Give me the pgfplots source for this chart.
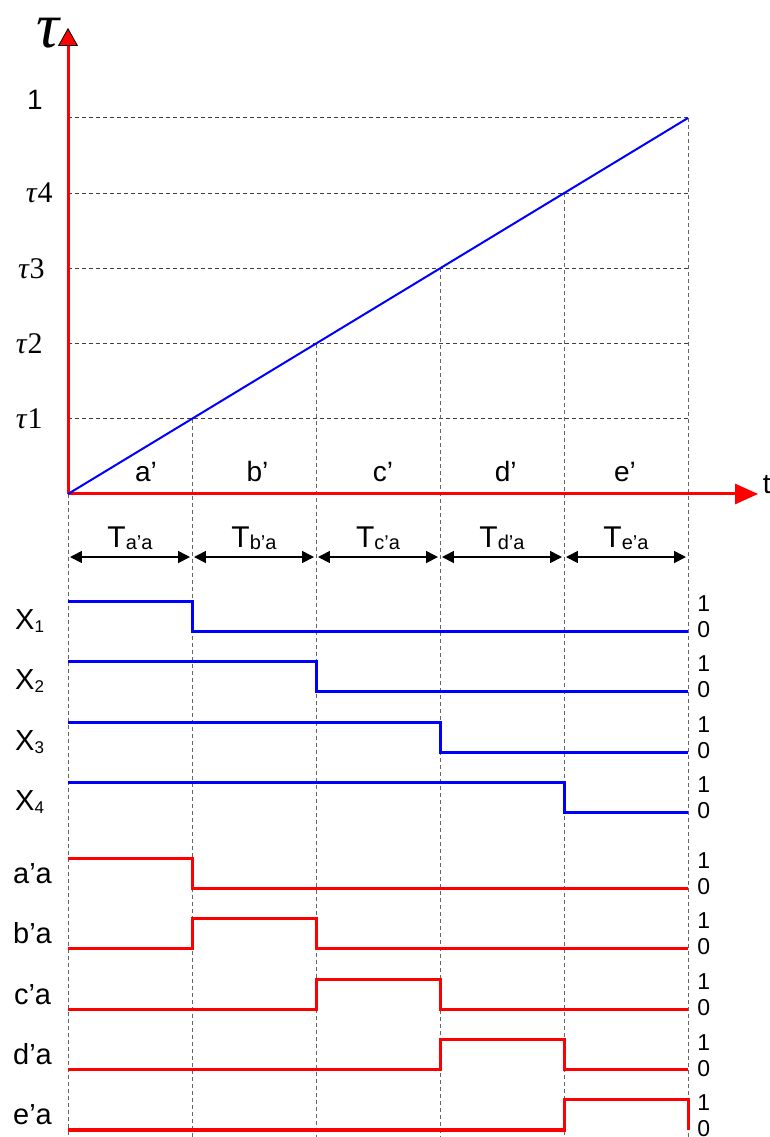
\documentclass[border=0pt]{standalone}
\usepackage{pgfplots}
\pgfplotsset{compat=1.18}
\usepackage{pgfplotstable}
\usepackage{fontspec}
\setmainfont{Liberation Sans}
\newfontfamily\serif{Liberation Serif}
\usetikzlibrary{arrows.meta}

\newcommand{\fs}[1]{\fontsize{#1}{#1}\selectfont}

% switching signals: level (0/1) of each line at the segment boundaries t = 0..5
\pgfplotstableread{
t  X1 X2 X3 X4 A B C D E
0  1  1  1  1  1  0  0  0  0
1  0  1  1  1  0  1  0  0  0
2  0  0  1  1  0  0  1  0  0
3  0  0  0  1  0  0  0  1  0
4  0  0  0  0  0  0  0  0  1
5  0  0  0  0  0  0  0  0  0
}\signals

\pgfplotsset{
  sheet/.style={scale only axis, width=385pt, height=568.5pt,
    xmin=-0.5484, xmax=5.6613, hide axis, clip=false,
    at={(0,0)}, anchor=south west},
  hgrid/.style={black!75, line width=0.5pt, dash pattern=on 2pt off 1.5pt},
  vgrid/.style={black!60, line width=0.5pt, dash pattern=on 2pt off 1.5pt},
  sigblue/.style={blue, line width=1.5pt, const plot, mark=none},
  sigred/.style={red, line width=1.5pt, const plot, mark=none},
}
\tikzset{
  lbl/.style={inner sep=0pt, anchor=base},
  lvl/.style={inner sep=0pt, anchor=base west},
  dim/.style={black, line width=0.8pt,
    {Triangle[length=6pt,width=6pt]}-{Triangle[length=6pt,width=6pt]}},
}
\newcommand{\Tsub}[1]{\fs{15}T\raisebox{-1pt}{\fs{10}#1}}
\newcommand{\Xsub}[1]{\fs{14.5}X\raisebox{-1.5pt}{\fs{8.5}#1}}

\begin{document}
\begin{tikzpicture}
\useasboundingbox (0,0) rectangle (385pt,568.5pt);

% ---------- tau(t) ramp ----------
\begin{axis}[sheet, ymin=-1.7101, ymax=1.3138]
  % horizontal reference levels
  \addplot[hgrid] coordinates {(0,0.2)(5,0.2)};
  \addplot[hgrid] coordinates {(0,0.4)(5,0.4)};
  \addplot[hgrid] coordinates {(0,0.6)(5,0.6)};
  \addplot[hgrid] coordinates {(0,0.8)(5,0.8)};
  \addplot[hgrid] coordinates {(0,1.0)(5,1.0)};
  % segment boundaries running down through the timing diagram
  \addplot[vgrid] coordinates {(0,0)(0,-1.7101)};
  \addplot[vgrid] coordinates {(1,0.2)(1,-1.7101)};
  \addplot[vgrid] coordinates {(2,0.4)(2,-1.7101)};
  \addplot[vgrid] coordinates {(3,0.6)(3,-1.7101)};
  \addplot[vgrid] coordinates {(4,0.8)(4,-1.7101)};
  \addplot[vgrid] coordinates {(5,1.0)(5,-1.7101)};

  % axes
  \draw[red, line width=1.5pt,
        -{Triangle[length=11.5pt,width=10pt]}] (axis cs:0,0) -- (axis cs:5.565,0);
  \draw[red, line width=1.5pt,
        -{Triangle[length=9pt,width=10pt,line width=0.4pt,color=black,fill=red]}]
        (axis cs:0,0) -- (axis cs:0,1.2394);

  % ramp
  \addplot[blue, line width=1pt] coordinates {(0,0)(5,1)};

  % axis labels
  \node[inner sep=0pt] at (axis cs:-0.158,1.226) {\serif\itshape\fs{32}τ};
  \node[inner sep=0pt, anchor=base west] at (axis cs:5.60,0.0) {\fs{14}t};
  \node[inner sep=0pt] at (axis cs:-0.266,1.048) {\fs{14}1};
  \node[inner sep=0pt, anchor=east] at (axis cs:-0.121,0.8) {\serif\fs{15}\textit{τ}4};
  \node[inner sep=0pt, anchor=east] at (axis cs:-0.185,0.6) {\serif\fs{15}\textit{τ}3};
  \node[inner sep=0pt, anchor=east] at (axis cs:-0.202,0.4) {\serif\fs{15}\textit{τ}2};
  \node[inner sep=0pt, anchor=east] at (axis cs:-0.202,0.2) {\serif\fs{15}\textit{τ}1};

  % segment names
  \node[lbl] at (axis cs:0.629,0.032) {\fs{14}a’};
  \node[lbl] at (axis cs:1.528,0.032) {\fs{14}b’};
  \node[lbl] at (axis cs:2.540,0.032) {\fs{14}c’};
  \node[lbl] at (axis cs:3.530,0.032) {\fs{14}d’};
  \node[lbl] at (axis cs:4.492,0.032) {\fs{14}e’};

  % segment durations
  \draw[dim] (axis cs:0.016,-0.1676) -- (axis cs:0.984,-0.1676);
  \draw[dim] (axis cs:1.016,-0.1676) -- (axis cs:1.984,-0.1676);
  \draw[dim] (axis cs:2.016,-0.1676) -- (axis cs:2.984,-0.1676);
  \draw[dim] (axis cs:3.016,-0.1676) -- (axis cs:3.984,-0.1676);
  \draw[dim] (axis cs:4.016,-0.1676) -- (axis cs:4.984,-0.1676);
  \node[lbl] at (axis cs:0.5,-0.1436) {\Tsub{a’a}};
  \node[lbl] at (axis cs:1.5,-0.1436) {\Tsub{b’a}};
  \node[lbl] at (axis cs:2.5,-0.1436) {\Tsub{c’a}};
  \node[lbl] at (axis cs:3.5,-0.1436) {\Tsub{d’a}};
  \node[lbl] at (axis cs:4.5,-0.1436) {\Tsub{e’a}};
\end{axis}

% ---------- switching signals ----------
\begin{axis}[sheet, ymin=0, ymax=1137]
  \addplot[sigblue] table[x=t, y expr=\thisrow{X1}*30+505.3] {\signals};
  \addplot[sigblue] table[x=t, y expr=\thisrow{X2}*30+445.3] {\signals};
  \addplot[sigblue] table[x=t, y expr=\thisrow{X3}*30+384.7] {\signals};
  \addplot[sigblue] table[x=t, y expr=\thisrow{X4}*30+324.7] {\signals};
  \addplot[sigred]  table[x=t, y expr=\thisrow{A}*30+248.7] {\signals};
  \addplot[sigred]  table[x=t, y expr=\thisrow{B}*30+188.7] {\signals};
  \addplot[sigred]  table[x=t, y expr=\thisrow{C}*30+127.5] {\signals};
  \addplot[sigred]  table[x=t, y expr=\thisrow{D}*30+67.0] {\signals};
  \addplot[sigred]  table[x=t, y expr=\thisrow{E}*30+7.0] {\signals};

  % signal names
  \node[lbl] at (axis cs:-0.31,507.5) {\Xsub{1}};
  \node[lbl] at (axis cs:-0.31,447.5) {\Xsub{2}};
  \node[lbl] at (axis cs:-0.31,386.9) {\Xsub{3}};
  \node[lbl] at (axis cs:-0.31,326.9) {\Xsub{4}};
  \node[lbl] at (axis cs:-0.286,253.7) {\fs{14.5}a’a};
  \node[lbl] at (axis cs:-0.286,193.7) {\fs{14.5}b’a};
  \node[lbl] at (axis cs:-0.286,132.5) {\fs{14.5}c’a};
  \node[lbl] at (axis cs:-0.286,72.0) {\fs{14.5}d’a};
  \node[lbl] at (axis cs:-0.286,12.0) {\fs{14.5}e’a};

  % logic levels
  \node[lvl] at (axis cs:5.073,525.0) {\fs{11.5}1};
  \node[lvl] at (axis cs:5.073,499.0) {\fs{11.5}0};
  \node[lvl] at (axis cs:5.073,465.0) {\fs{11.5}1};
  \node[lvl] at (axis cs:5.073,439.0) {\fs{11.5}0};
  \node[lvl] at (axis cs:5.073,404.4) {\fs{11.5}1};
  \node[lvl] at (axis cs:5.073,378.4) {\fs{11.5}0};
  \node[lvl] at (axis cs:5.073,344.4) {\fs{11.5}1};
  \node[lvl] at (axis cs:5.073,318.4) {\fs{11.5}0};
  \node[lvl] at (axis cs:5.073,268.4) {\fs{11.5}1};
  \node[lvl] at (axis cs:5.073,242.4) {\fs{11.5}0};
  \node[lvl] at (axis cs:5.073,208.4) {\fs{11.5}1};
  \node[lvl] at (axis cs:5.073,182.4) {\fs{11.5}0};
  \node[lvl] at (axis cs:5.073,147.2) {\fs{11.5}1};
  \node[lvl] at (axis cs:5.073,121.2) {\fs{11.5}0};
  \node[lvl] at (axis cs:5.073,86.7) {\fs{11.5}1};
  \node[lvl] at (axis cs:5.073,60.7) {\fs{11.5}0};
  \node[lvl] at (axis cs:5.073,26.7) {\fs{11.5}1};
  \node[lvl] at (axis cs:5.073,0.7) {\fs{11.5}0};
\end{axis}
\end{tikzpicture}
\end{document}
